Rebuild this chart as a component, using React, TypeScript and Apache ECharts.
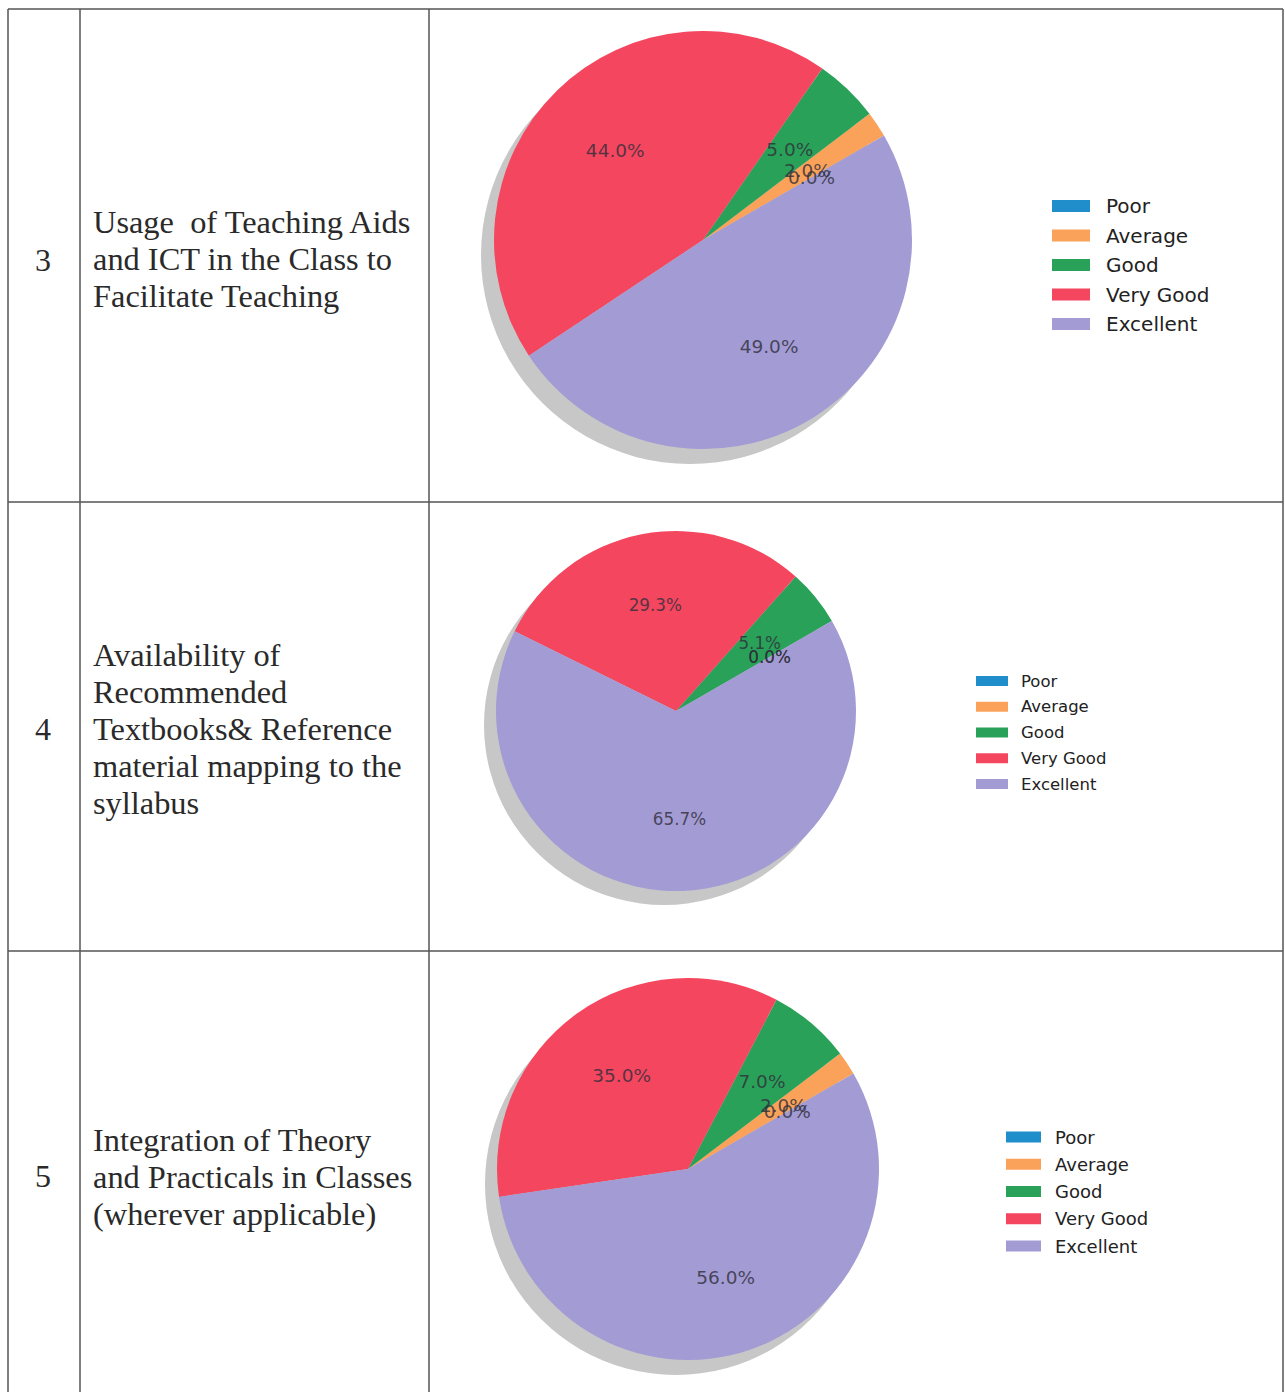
import React, { useEffect, useRef } from "react";
import * as echarts from "echarts";

const categories = ["Poor", "Average", "Good", "Very Good", "Excellent"];
const colors = ["#1f8ecb", "#fba25a", "#2aa159", "#f4465f", "#a39bd3"];

const rowNumbers = ["3", "4", "5"];
const rowTexts = [
  ["Usage  of Teaching Aids", "and ICT in the Class to", "Facilitate Teaching"],
  ["Availability of", "Recommended", "Textbooks& Reference", "material mapping to the", "syllabus"],
  ["Integration of Theory", "and Practicals in Classes", "(wherever applicable)"],
];

const values1 = [0.0, 2.0, 5.0, 44.0, 49.0];
const values2 = [0.0, 0.0, 5.1, 29.3, 65.7];
const values3 = [0.0, 2.0, 7.0, 35.0, 56.0];
const allValues = [values1, values2, values3];

// layout (pixels)
const pies = [
  { cx: 703, cy: 240, r: 209, sx: -13, sy: 15 },
  { cx: 676, cy: 711, r: 180, sx: -12, sy: 14 },
  { cx: 688, cy: 1169, r: 191, sx: -12, sy: 15 },
];
const legends = [
  { left: 1052, top: 196, w: 38, h: 12, font: 20, gap: 9.5, pad: 11 },
  { left: 976, top: 672.5, w: 32, h: 10, font: 16.5, gap: 8.75, pad: 8 },
  { left: 1006, top: 1128, w: 35, h: 11, font: 18, gap: 9.25, pad: 9 },
];
const labelFonts = [18.5, 16.8, 18.5];
const numberY = [260, 729, 1176];
const textTop = [222, 655, 1140];

export default function App() {
  const ref = useRef<HTMLDivElement>(null);
  useEffect(() => {
    if (!ref.current) return;
    const chart = echarts.init(ref.current, null, { renderer: "svg" });

    const series: any[] = [];
    // shadows
    pies.forEach((p, i) => {
      series.push({
        type: "pie",
        silent: true,
        center: [p.cx + p.sx, p.cy + p.sy],
        radius: [0, p.r],
        label: { show: false },
        labelLine: { show: false },
        itemStyle: { color: "#c7c7c7" },
        data: [{ name: "shadow" + i, value: 1 }],
        z: 1,
      });
    });
    // main pies
    pies.forEach((p, i) => {
      series.push({
        type: "pie",
        silent: true,
        center: [p.cx, p.cy],
        radius: [0, p.r],
        startAngle: 30,
        clockwise: false,
        label: { show: false },
        labelLine: { show: false },
        itemStyle: { borderWidth: 0 },
        data: categories.map((c, k) => ({ name: c, value: allValues[i][k], itemStyle: { color: colors[k] } })),
        z: 2,
      });
    });
    // percentage labels at 0.6 r, placed in a polar system matching each pie
    const polar: any[] = [];
    const angleAxis: any[] = [];
    const radiusAxis: any[] = [];
    pies.forEach((p, i) => {
      const vals = allValues[i];
      const total = vals.reduce((a, b) => a + b, 0);
      polar.push({ center: [p.cx, p.cy], radius: [0, p.r] });
      angleAxis.push({
        polarIndex: i,
        type: "value",
        min: 0,
        max: total,
        startAngle: 30,
        clockwise: false,
        show: false,
      });
      radiusAxis.push({ polarIndex: i, type: "value", min: 0, max: 1, show: false });
      let acc = 0;
      const pts = vals.map((v) => {
        const mid = acc + v / 2;
        acc += v;
        return { value: [0.6, mid], raw: v };
      });
      series.push({
        type: "scatter",
        coordinateSystem: "polar",
        polarIndex: i,
        silent: true,
        symbolSize: 0,
        z: 5,
        label: {
          show: true,
          position: "inside",
          fontFamily: "DejaVu Sans",
          fontSize: labelFonts[i],
          color: "#2e2e3a",
          formatter: (q: any) => Number(q.data.raw).toFixed(1) + "%",
        },
        data: pts,
      });
    });

    const graphic: any[] = [];
    const lineStyle = { stroke: "#555", lineWidth: 1.5 };
    const hLines = [9, 502, 951];
    hLines.forEach((y) =>
      graphic.push({ type: "line", shape: { x1: 8, y1: y, x2: 1283, y2: y }, style: lineStyle })
    );
    [8, 80, 429, 1283].forEach((x) =>
      graphic.push({ type: "line", shape: { x1: x, y1: 9, x2: x, y2: 1392 }, style: lineStyle })
    );
    rowNumbers.forEach((n, i) => {
      graphic.push({
        type: "text",
        x: 43,
        y: numberY[i],
        style: {
          text: n,
          font: '32px "Liberation Serif"',
          fill: "#2a2a2a",
          align: "center",
          verticalAlign: "middle",
        },
      });
      rowTexts[i].forEach((t, j) => {
        graphic.push({
          type: "text",
          x: 93,
          y: textTop[i] + j * 37,
          style: {
            text: t,
            font: '32.4px "Liberation Serif"',
            fill: "#2a2a2a",
            align: "left",
            verticalAlign: "middle",
          },
        });
      });
    });

    chart.setOption({
      animation: false,
      backgroundColor: "#ffffff",
      polar,
      angleAxis,
      radiusAxis,
      legend: legends.map((l) => ({
        orient: "vertical",
        left: l.left,
        top: l.top,
        padding: 0,
        itemWidth: l.w,
        itemHeight: l.h,
        itemGap: l.gap,
        icon: "rect",
        selectedMode: false,
        data: categories,
        textStyle: {
          fontFamily: "DejaVu Sans",
          fontSize: l.font,
          color: "#222",
          padding: [0, 0, 0, l.pad],
        },
      })),
      series,
      graphic,
    });
    return () => chart.dispose();
  }, []);
  return (
    <div
      ref={ref}
      style={{ position: "absolute", left: 0, top: 0, width: 1285, height: 1392 }}
    />
  );
}
